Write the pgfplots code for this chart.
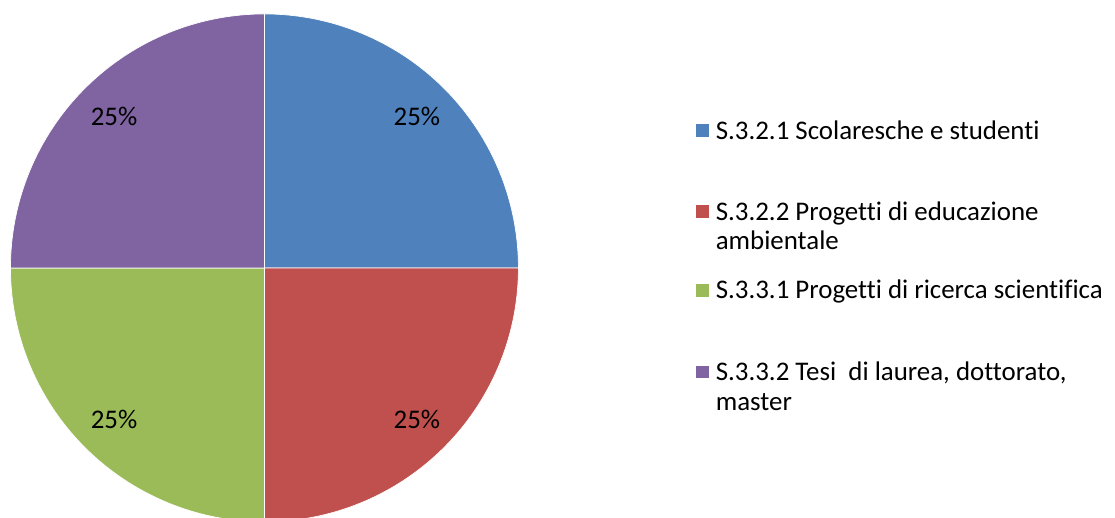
\documentclass[border=0pt]{standalone}
\usepackage{pgfplots}
\usepackage{pgfplotstable}
\pgfplotsset{compat=1.18}
\usepackage{fontspec}
\setmainfont{Carlito}[Ligatures={NoCommon}]

\definecolor{col0}{HTML}{4F81BD}
\definecolor{col1}{HTML}{C0504D}
\definecolor{col2}{HTML}{9BBB59}
\definecolor{col3}{HTML}{8064A2}

% share of each category (percent)
\pgfplotstableread{
id value
0 25
1 25
2 25
3 25
}\piedata

\begin{document}
% cumulative angles, clockwise from 12 o'clock
\def\acc{90}
\pgfplotsforeachungrouped \i in {0,...,3}{%
  \pgfplotstablegetelem{\i}{value}\of\piedata
  \let\val\pgfplotsretval
  \pgfmathsetmacro\span{\val*3.6}%
  \expandafter\xdef\csname sa\i\endcsname{\acc}%
  \pgfmathsetmacro\mid{\acc-\span/2}%
  \expandafter\xdef\csname ma\i\endcsname{\mid}%
  \pgfmathsetmacro\acc{\acc-\span}%
  \expandafter\xdef\csname ea\i\endcsname{\acc}%
  \pgfmathtruncatemacro\pct{round(\val)}%
  \expandafter\xdef\csname lab\i\endcsname{\pct}%
}
\begin{tikzpicture}[font=\fontsize{27}{31}\selectfont]
\begin{axis}[
    x=1pt, y=1pt,
    xmin=0, xmax=1115,
    ymin=0, ymax=520,
    hide axis,
    clip=false,
]
\pgfplotsinvokeforeach{0,...,3}{
  \fill[col#1, draw=white, line width=0.7pt]
    (axis cs:261,251) -- ++(\csname sa#1\endcsname:255pt)
    arc[start angle=\csname sa#1\endcsname, end angle=\csname ea#1\endcsname, radius=255pt]
    -- cycle;
}
\pgfplotsinvokeforeach{0,...,3}{
  \path (axis cs:262,251) ++(\csname ma#1\endcsname:215pt)
    node {\csname lab#1\endcsname\%};
}
% legend
\fill[col0] (axis cs:694,382) rectangle (axis cs:707,395);
\node[anchor=base west, inner sep=0pt] at (axis cs:714,380) {S.3.2.1 Scolaresche e studenti};
\fill[col1] (axis cs:694,301) rectangle (axis cs:707,314);
\node[anchor=base west, inner sep=0pt] at (axis cs:714,299) {S.3.2.2 Progetti di educazione};
\node[anchor=base west, inner sep=0pt] at (axis cs:714,269) {ambientale};
\fill[col2] (axis cs:694,222) rectangle (axis cs:707,235);
\node[anchor=base west, inner sep=0pt] at (axis cs:714,220) {S.3.3.1 Progetti di ricerca scientifica};
\fill[col3] (axis cs:694,140) rectangle (axis cs:707,153);
\node[anchor=base west, inner sep=0pt] at (axis cs:714,138) {S.3.3.2 Tesi\ \ di laurea, dottorato,};
\node[anchor=base west, inner sep=0pt] at (axis cs:714,108) {master};
\end{axis}
\pgfresetboundingbox
\path (0,0) rectangle (1115pt,520pt);
\end{tikzpicture}
\end{document}
